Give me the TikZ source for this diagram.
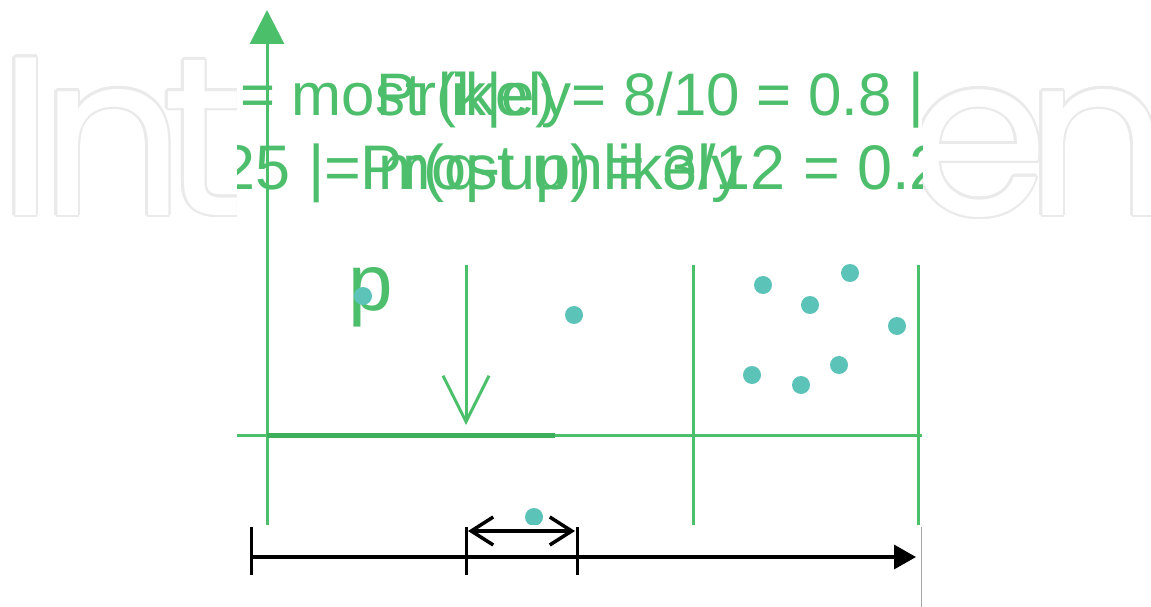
\documentclass[tikz,border=0pt]{standalone}
\usepackage{fontspec}
\setmainfont{Liberation Sans}
\newfontfamily\wmfont{Poppins}
\usepackage{contour}
\usetikzlibrary{arrows.meta}
\definecolor{gcol}{HTML}{4CBF6B}
\definecolor{gdark}{HTML}{3DAE5A}
\definecolor{gtext}{HTML}{4DBE6C}
\definecolor{dotcol}{HTML}{5CC3B8}
\definecolor{wmgray}{HTML}{EAEAEA}
\contourlength{2.5pt}
\tikzset{
  gline/.style={draw=gcol, line width=3pt},
  bline/.style={draw=black, line width=3.5pt},
  gtxt/.style={text=gtext, anchor=base west, inner sep=0pt},
  wm/.style={anchor=base west, inner sep=0pt, font=\wmfont\fontsize{226}{230}\selectfont},
  dot/.style={circle, fill=dotcol, inner sep=0pt, minimum size=18pt},
}
\begin{document}
\begin{tikzpicture}[x=1pt,y=-1pt]
\useasboundingbox (0,0) rectangle (1151,607);
% watermark
\node[wm] (wmI) at (-2,215) {\contour{wmgray}{\color{white}I}};
\node[wm] (wmN) at (40,215) {\contour{wmgray}{\color{white}n}};
\node[wm] (wmT) at (162,215) {\contour{wmgray}{\color{white}t}};
\node[wm] (wmE) at (908,215) {\contour{wmgray}{\color{white}e}};
\node[wm] (wmN2) at (1025,215) {\contour{wmgray}{\color{white}n}};
\fill[white] (237,0) rectangle (922,607);
% overlapping texts
\begin{scope}
\clip (237,0) rectangle (922,240);
\node[gtxt, font=\fontsize{60}{72}\selectfont] (a1) at (240,116) {= most likely};
\node[gtxt, font=\fontsize{60}{72}\selectfont] (b1) at (376,116) {Pr(k|e) = 8/10 = 0.8 | = most likely};
\node[gtxt, font=\fontsize{63}{72}\selectfont] (a2) at (168,189) {0.25 |= most unlikely};
\node[gtxt, font=\fontsize{63}{72}\selectfont] (b2) at (360,189) {Pr(q-up) = 3/12 = 0.25 |= most unlikely};
\end{scope}
% axes
\coordinate (yb) at (267,525);
\coordinate (yt) at (267,10);
\draw[gline, -{Triangle[length=34pt,width=34pt]}] (yb) -- (yt);
\coordinate (xl) at (237,435);
\coordinate (xr) at (922,435);
\draw[gline] (xl) -- (xr);
\coordinate (tl) at (267,435);
\coordinate (tr) at (555,435);
\draw[draw=gdark, line width=5pt] (tl) -- (tr);
\coordinate (v1t) at (693,265); \coordinate (v1b) at (693,525);
\coordinate (v2t) at (918,265); \coordinate (v2b) at (918,525);
\draw[gline] (v1t) -- (v1b);
\draw[gline] (v2t) -- (v2b);
\coordinate (at) at (466,265); \coordinate (ab) at (466,425);
\draw[gline, -{Straight Barb[length=46pt,width=46pt]}] (at) -- (ab);
% p and dots
\node[gtxt, font=\fontsize{80}{80}\selectfont] (p) at (348,310) {p};
\node[dot] (d0) at (363,296) {};
\node[dot] (d1) at (574,315) {};
\node[dot] (d2) at (763,285) {};
\node[dot] (d3) at (850,273) {};
\node[dot] (d4) at (810,305) {};
\node[dot] (d5) at (897,326) {};
\node[dot] (d6) at (752,375) {};
\node[dot] (d7) at (801,385) {};
\node[dot] (d8) at (839,365) {};
\node[dot] (d9) at (534,517) {};
% lower panel
\fill[white] (237,525) rectangle (921,607);
\coordinate (g1) at (921,527); \coordinate (g2) at (921,607);
\draw[gray!70, line width=1pt] (g1) -- (g2);
\coordinate (t1a) at (251,527); \coordinate (t1b) at (251,575);
\coordinate (t2a) at (466,527); \coordinate (t2b) at (466,575);
\coordinate (t3a) at (577,527); \coordinate (t3b) at (577,575);
\draw[draw=black, line width=3pt] (t1a) -- (t1b);
\draw[draw=black, line width=3pt] (t2a) -- (t2b);
\draw[draw=black, line width=3pt] (t3a) -- (t3b);
\coordinate (hl) at (251,557); \coordinate (hr) at (916,557);
\draw[bline, -{Triangle[length=22pt,width=24pt]}] (hl) -- (hr);
\coordinate (dl) at (468,531); \coordinate (dr) at (575,531);
\draw[bline, {Straight Barb[length=22pt,width=28pt]}-{Straight Barb[length=22pt,width=28pt]}] (dl) -- (dr);
\end{tikzpicture}
\end{document}
